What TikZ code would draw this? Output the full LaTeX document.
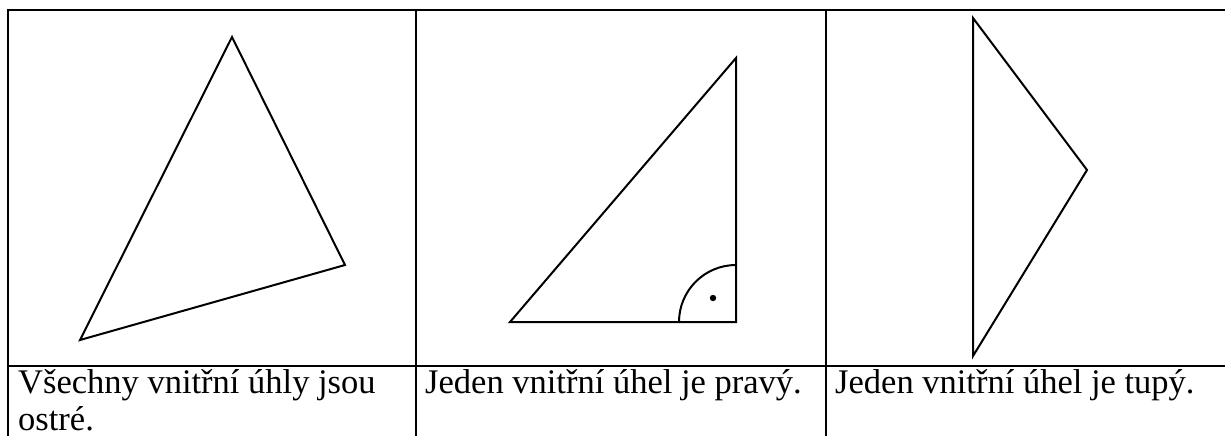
\documentclass[tikz,border=0pt]{standalone}
\usepackage{fontspec}
\setmainfont{Liberation Serif}
\begin{document}
\begin{tikzpicture}[x=1pt,y=-1pt,
  grid/.style={line width=2.4pt},
  tri/.style={line width=2pt,line join=miter},
  lbl/.style={anchor=base west,inner sep=0pt,font=\fontsize{34.5}{38}\selectfont}]
\useasboundingbox (0,0) rectangle (1225,436);
% table lines
\coordinate (tl) at (8,10);
\coordinate (tr) at (1225,10);
\coordinate (ml) at (8,366);
\coordinate (mr) at (1225,366);
\draw[grid] (tl) -- (tr);
\draw[grid] (ml) -- (mr);
\draw[grid] (8,8.8) -- (8,436);
\draw[grid] (416,8.8) -- (416,436);
\draw[grid] (826,8.8) -- (826,436);
% triangle 1
\coordinate (a1) at (232,37);
\coordinate (b1) at (345,265);
\coordinate (c1) at (80,340);
\draw[tri] (a1) -- (b1) -- (c1) -- cycle;
% triangle 2
\coordinate (a2) at (510,322);
\coordinate (b2) at (736,322);
\coordinate (c2) at (736,58);
\draw[tri] (a2) -- (b2) -- (c2) -- cycle;
\draw[tri] (679,322) arc[start angle=180,end angle=270,radius=57];
\fill (713,298) circle[radius=3.2];
% triangle 3
\coordinate (a3) at (973,18);
\coordinate (b3) at (1087,170);
\coordinate (c3) at (973,356);
\draw[tri] (a3) -- (b3) -- (c3) -- cycle;
% labels
\node[lbl] (t1a) at (18,393) {Všechny vnitřní úhly jsou};
\node[lbl] (t1b) at (18,430) {ostré.};
\node[lbl] (t2) at (425,393) {Jeden vnitřní úhel je pravý.};
\node[lbl] (t3) at (835,393) {Jeden vnitřní úhel je tupý.};
\end{tikzpicture}
\end{document}
